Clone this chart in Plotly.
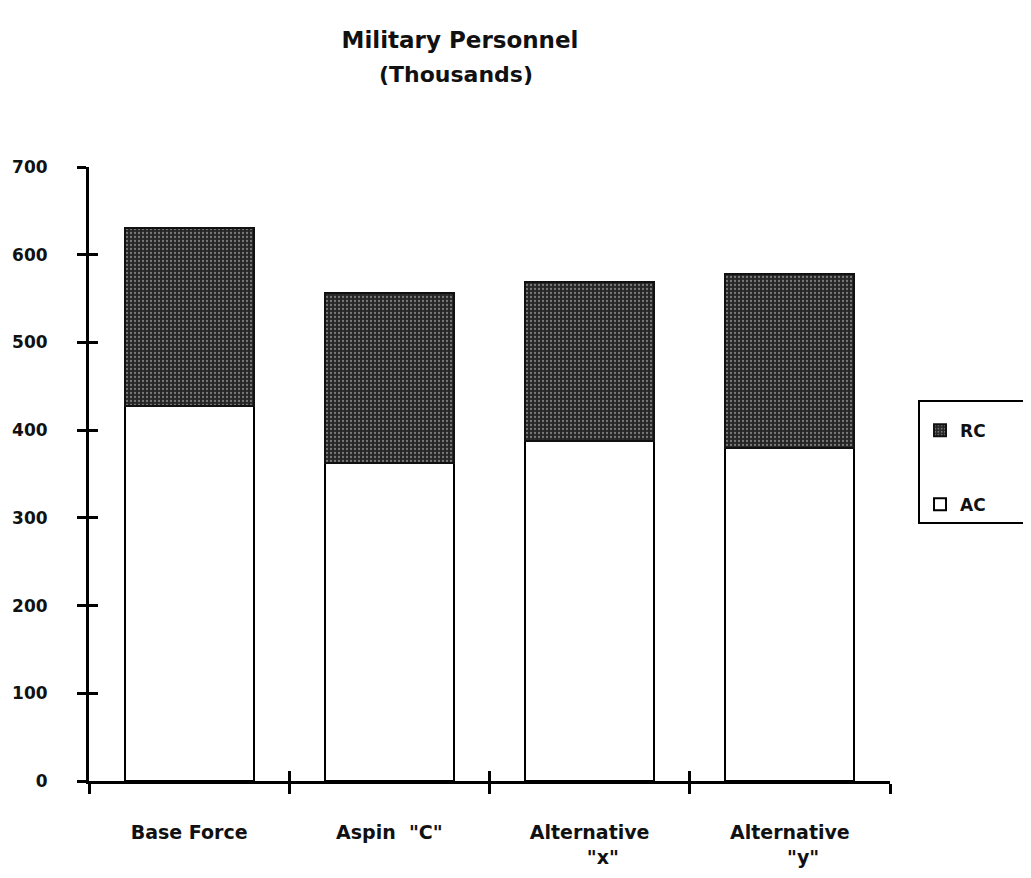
import plotly.graph_objects as go

categories = ["Base Force", "Aspin  \"C\"", "Alternative<br>    \"x\"", "Alternative<br>    \"y\""]
ac_values = [427, 363, 388, 380]
rc_values = [203, 193, 181, 198]
y_ticks = [0, 100, 200, 300, 400, 500, 600, 700]
boundaries = [-0.5, 0.5, 1.5, 2.5, 3.5]

FONT = "DejaVu Sans, Liberation Sans, Arial, sans-serif"
NB = "\u00a0"

fig = go.Figure()
fig.add_trace(go.Bar(
    x=categories, y=ac_values, name="<b>AC</b>" + NB * 6,
    marker=dict(color="white", line=dict(color="black", width=2)),
    width=0.645, legendgroup="ac", legendrank=2,
))
fig.add_trace(go.Bar(
    x=categories, y=rc_values, name="<b>RC</b>" + NB * 6,
    marker=dict(color="#262626", line=dict(color="#111", width=2),
                pattern=dict(shape=".", bgcolor="#262626", fgcolor="#7a7a7a",
                             size=4, solidity=0.25, fillmode="replace")),
    width=0.645, legendgroup="rc", legendrank=1,
))

# invisible trace to register the overlay axes (used for crossing tick marks)
fig.add_trace(go.Scatter(x=[0], y=[0], xaxis="x2", yaxis="y2", mode="markers",
                         marker=dict(opacity=0), showlegend=False, hoverinfo="skip"))

fig.update_layout(
    width=1031, height=878,
    barmode="stack",
    plot_bgcolor="white", paper_bgcolor="white",
    margin=dict(l=81, r=149, t=159, b=105, autoexpand=False),
    font=dict(family=FONT, color="#111"),
    title=dict(text="<b>Military Personnel</b>",
               x=452 / 1031, xref="container", xanchor="center",
               y=1 - 32 / 878, yref="container", yanchor="middle",
               font=dict(size=23, family=FONT, color="#111")),
    annotations=[dict(text="<b>(Thousands)</b>", xref="paper", yref="paper",
                      x=(448 - 81) / 801, y=1 + (159 - 67) / 614,
                      xanchor="center", yanchor="middle", showarrow=False,
                      font=dict(size=22, family=FONT, color="#111"))],
    showlegend=True,
    legend=dict(x=1.035, xanchor="left", y=0.62, yanchor="top",
                traceorder="grouped", tracegroupgap=49,
                bordercolor="black", borderwidth=2,
                title=dict(text=" ", font=dict(size=8)),
                font=dict(size=17, family=FONT, color="#111"),
                itemwidth=30),
    xaxis=dict(
        tickmode="array", tickvals=categories,
        ticktext=[f"<b>{c}</b>" for c in categories],
        tickfont=dict(size=19, family=FONT, color="#111"),
        showline=True, linecolor="black", linewidth=3,
        ticks="outside", tickson="boundaries", ticklen=10, tickwidth=3, tickcolor="black",
        ticklabelstandoff=32, automargin=False,
        showgrid=False, zeroline=False,
        range=[-0.5, 3.5],
    ),
    xaxis2=dict(
        overlaying="x", anchor="y", type="linear", range=[-0.5, 3.5],
        tickvals=boundaries, ticks="inside", ticklen=10, tickwidth=3, tickcolor="black",
        showticklabels=False, showgrid=False, zeroline=False, showline=False, side="bottom",
        automargin=False,
    ),
    yaxis=dict(
        range=[0, 700], tickvals=y_ticks,
        ticktext=[f"<b>{t}</b>" for t in y_ticks],
        tickfont=dict(size=17, family=FONT, color="#111"),
        showline=True, linecolor="black", linewidth=3,
        ticks="outside", ticklen=9, tickwidth=3, tickcolor="black",
        ticklabelstandoff=26, automargin=False,
        showgrid=False, zeroline=False,
    ),
    yaxis2=dict(
        overlaying="y", anchor="x", range=[0, 700], tickvals=y_ticks,
        ticks="inside", ticklen=9, tickwidth=3, tickcolor="black",
        showticklabels=False, showgrid=False, zeroline=False, showline=False, side="left",
        automargin=False,
    ),
)

fig.write_html("out.html")
